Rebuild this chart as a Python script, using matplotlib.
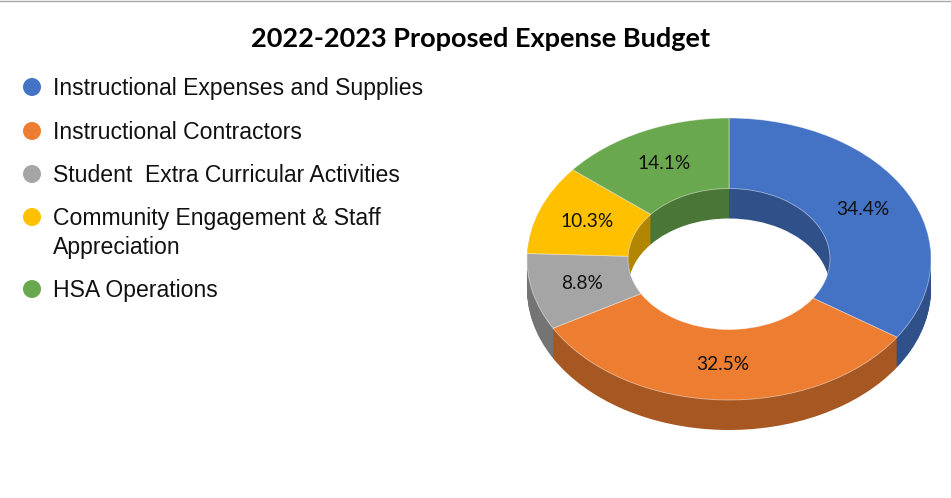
import matplotlib
matplotlib.use("Agg")
import matplotlib.pyplot as plt
from matplotlib.patches import Circle
from matplotlib.colors import to_rgb

title = "2022-2023 Proposed Expense Budget"
categories = ["Instructional Expenses and Supplies", "Instructional Contractors",
              "Student  Extra Curricular Activities",
              "Community Engagement & Staff\nAppreciation", "HSA Operations"]
values = [34.4, 32.5, 8.8, 10.3, 14.1]
colors = ["#4472C4", "#ED7D31", "#A5A5A5", "#FFC000", "#6AA84F"]
legend_y = [87, 131, 174, 217, 289]

W, H = 951, 498
fig = plt.figure(figsize=(W / 100, H / 100), dpi=100)
fig.patch.set_facecolor("white")

# top rule
fig.add_artist(plt.Line2D([0, 1], [1 - 1.5 / H, 1 - 1.5 / H], color="#a8a8a8", lw=1.0))

# donut axes: unit circle spans the ellipse on screen
cx, cy, rx, ry, depth = 729, 259, 202, 141, 30
ax = fig.add_axes([(cx - rx) / W, 1 - (cy + ry + depth) / H, 2 * rx / W, (2 * ry + depth) / H])
d = depth / ry
wp = dict(width=0.5, linewidth=0)

dark = [tuple(c * 0.70 for c in to_rgb(col)) for col in colors]
for k in range(depth, 0, -1):
    ax.pie(values, radius=1, center=(0, -d * k / depth), colors=dark, startangle=90,
           counterclock=False, wedgeprops=wp)
_, _, pct_texts = ax.pie(values, radius=1, center=(0, 0), colors=colors, startangle=90, counterclock=False,
       wedgeprops=dict(width=0.5, linewidth=0.6, edgecolor="#ffffff80"),
       autopct="%.1f%%", pctdistance=0.75, textprops=dict(fontsize=13.8, family="Lato", color="#111111"))
ax.set_aspect("auto")
ax.set_xlim(-1, 1)
ax.set_ylim(-1 - d, 1)
ax.axis("off")

# overlay in pixel coordinates for title and legend
ov = fig.add_axes([0, 0, 1, 1], zorder=3)
ov.set_xlim(0, W)
ov.set_ylim(H, 0)
ov.axis("off")
ov.patch.set_alpha(0)
ov.text(480.5, 39, title, ha="center", va="center", fontsize=19.5, fontweight="bold", family="Lato", color="black")
for name, col, y in zip(categories, colors, legend_y):
    ov.add_patch(Circle((32, y), 9, color=col, lw=0))
    lines = name.split("\n")
    ov.text(53, y + 1, lines[0], va="center", ha="left", fontsize=16.6, family="Liberation Sans", color="#111111")
    if len(lines) > 1:
        ov.text(53, y + 30, lines[1], va="center", ha="left", fontsize=16.6, family="Liberation Sans", color="#111111")

fig.savefig("out.png", dpi=100)
